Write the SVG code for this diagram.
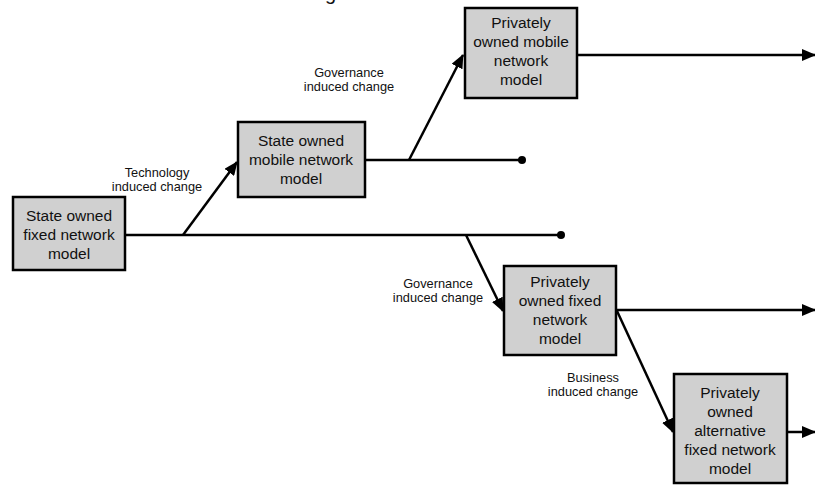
<svg xmlns="http://www.w3.org/2000/svg" width="815" height="487" viewBox="0 0 815 487">
  <style>
    .box { fill: #d0d0d0; stroke: #000; stroke-width: 2.5; }
    .bt { font-family: "Liberation Sans", Arial, sans-serif; font-size: 15.5px; fill: #111; text-anchor: middle; }
    .lb { font-family: "Liberation Sans", Arial, sans-serif; font-size: 12.8px; fill: #111; text-anchor: middle; }
    .ln { fill: none; stroke: #000; stroke-width: 2.5; }
    .arr { marker-end: url(#head); }
  </style>
  <defs>
    <marker id="head" markerUnits="userSpaceOnUse" markerWidth="14" markerHeight="12" refX="13" refY="6" orient="auto">
      <path d="M0,0 L14,6 L0,12 z" fill="#000"/>
    </marker>
  </defs>
  <rect width="815" height="487" fill="#fff"/>

  <!-- title descender peeking in at the top edge -->
  <text x="325" y="0" font-family="Liberation Sans, Arial, sans-serif" font-size="20" fill="#111">g</text>

  <g id="connectors">
    <path class="ln" d="M126,235 H561"/>
    <circle cx="561" cy="235" r="4" fill="#000"/>
    <path class="ln arr" d="M183,235 L237,162"/>
    <path class="ln" d="M366,160 H522"/>
    <circle cx="522" cy="160" r="4" fill="#000"/>
    <path class="ln arr" d="M409,160 L463,55"/>
    <path class="ln arr" d="M578,55 H815"/>
    <path class="ln arr" d="M466,235 L503,311"/>
    <path class="ln arr" d="M617,310 H815"/>
    <path class="ln arr" d="M617,311 L673,432"/>
    <path class="ln arr" d="M788,432 H815"/>
  </g>

  <g id="labels">
    <text class="lb" x="157" y="177">Technology</text>
    <text class="lb" x="157" y="191">induced change</text>
    <text class="lb" x="349" y="76.5">Governance</text>
    <text class="lb" x="349" y="90.5">induced change</text>
    <text class="lb" x="438" y="287.5">Governance</text>
    <text class="lb" x="438" y="301.5">induced change</text>
    <text class="lb" x="593" y="382">Business</text>
    <text class="lb" x="593" y="396">induced change</text>
  </g>

  <g id="state-fixed">
    <rect class="box" x="13" y="197" width="112" height="73"/>
    <text class="bt" x="69" y="221">State owned</text>
    <text class="bt" x="69" y="240">fixed network</text>
    <text class="bt" x="69" y="259">model</text>
  </g>

  <g id="state-mobile">
    <rect class="box" x="238" y="122" width="127" height="75"/>
    <text class="bt" x="301" y="146">State owned</text>
    <text class="bt" x="301" y="165">mobile network</text>
    <text class="bt" x="301" y="184">model</text>
  </g>

  <g id="private-mobile">
    <rect class="box" x="465" y="8" width="112" height="90"/>
    <text class="bt" x="521" y="28">Privately</text>
    <text class="bt" x="521" y="47">owned mobile</text>
    <text class="bt" x="521" y="66">network</text>
    <text class="bt" x="521" y="85">model</text>
  </g>

  <g id="private-fixed">
    <rect class="box" x="504" y="266" width="112" height="89"/>
    <text class="bt" x="560" y="287">Privately</text>
    <text class="bt" x="560" y="306">owned fixed</text>
    <text class="bt" x="560" y="325">network</text>
    <text class="bt" x="560" y="344">model</text>
  </g>

  <g id="private-alt-fixed">
    <rect class="box" x="674" y="374" width="113" height="109"/>
    <text class="bt" x="730" y="398">Privately</text>
    <text class="bt" x="730" y="417">owned</text>
    <text class="bt" x="730" y="436">alternative</text>
    <text class="bt" x="730" y="455">fixed network</text>
    <text class="bt" x="730" y="474">model</text>
  </g>
</svg>
